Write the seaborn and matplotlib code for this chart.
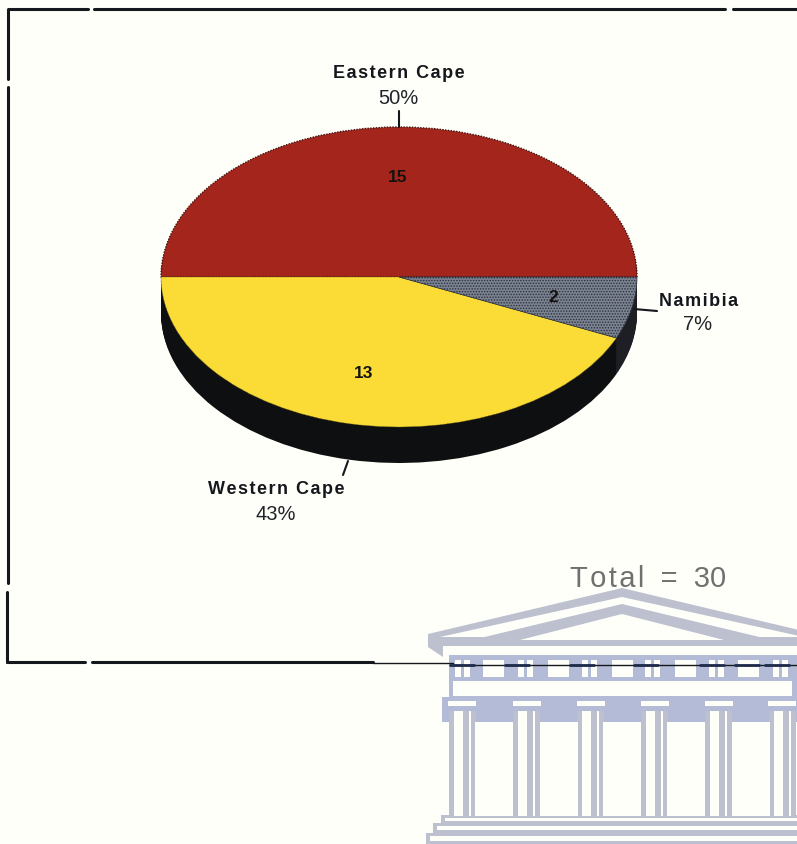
import numpy as np
import matplotlib
matplotlib.use('Agg')
import matplotlib.pyplot as plt
from matplotlib.patches import Polygon, Rectangle
import seaborn as sns

regions = ['Eastern Cape', 'Western Cape', 'Namibia']
counts = [15, 13, 2]
percents = ['50%', '43%', '7%']
total = 30
slice_colors = ['#a3251b', '#fbdc36', '#7b8393']
side_colors = ['#0e0f10', '#0e0f10', '#1d1f24']

sns.set_theme(style='white')
plt.rcParams['font.family'] = ['Liberation Sans', 'DejaVu Sans']
plt.rcParams['hatch.linewidth'] = 0.7

BG = '#fffffa'
LOGO = '#b4bbd6'
LOGO_GREY = '#bdc1cf'
INK = '#14171c'
HAIR = '\u200a'

fig = plt.figure(figsize=(7.97, 8.44), dpi=100, facecolor=BG)

# page axes in pixel coordinates, for frame, logo and labels
ax = fig.add_axes([0, 0, 1, 1], zorder=1)
ax.set_xlim(0, 797)
ax.set_ylim(844, 0)
ax.axis('off')


def box(x0, y0, x1, y1, color=LOGO_GREY, z=1):
    ax.add_patch(Rectangle((x0, y0), x1 - x0, y1 - y0, fc=color, ec='none', zorder=z))


def tri(apex, half, base, color, z=1):
    ax.add_patch(Polygon([(622, apex), (622 - half, base), (622 + half, base)], fc=color, ec='none', zorder=z))


def spaced(s):
    return HAIR.join(s)


# building watermark
tri(588, 194, 634, LOGO_GREY)
box(440, 641, 797, 646)
ax.add_patch(Polygon([(428, 634), (816, 634), (816, 642), (443, 642), (443, 657), (428, 647)],
                     fc=LOGO_GREY, ec='none', zorder=1))
tri(597, 182, 637, BG, 1.1)
tri(604, 150, 640, LOGO_GREY, 1.2)
tri(614, 102, 640, BG, 1.3)
box(443, 646, 797, 655, BG, 1.4)
box(449, 655, 797, 698, LOGO)
for x in [483, 548, 612, 675, 738]:
    box(x, 660, x + 21, 677, BG, 1.4)
for x in [455, 518, 582, 645, 709, 773]:
    box(x, 660, x + 6, 677, BG, 1.4)
    box(x + 9, 660, x + 15, 677, BG, 1.4)
box(453, 681, 792, 696, BG, 1.4)
box(442, 697, 797, 722, LOGO)
for x in [448, 513, 577, 641, 705, 768]:
    box(x, 701, x + 28, 706, BG, 1.4)
for x in [475, 540, 603, 667, 732]:
    box(x, 722, x + 38, 816, BG, 1.4)
for x in [449, 513, 577, 641, 705, 769]:
    box(x, 711, x + 27, 816)
    box(x + 5, 711, x + 14, 816, BG, 1.4)
    box(x + 20, 711, x + 22, 816, BG, 1.4)
box(441, 815, 797, 823)
box(445, 818, 797, 821, BG, 1.4)
box(433, 823, 797, 833)
box(437, 826, 797, 830, BG, 1.4)
box(426, 833, 797, 844)
box(430, 836, 797, 841, BG, 1.4)

# broken frame
for xs, ys, lw in [
    ([9, 88], [9, 9], 2.2), ([94, 725], [9, 9], 2.2), ([733, 797], [9, 9], 2.2),
    ([8, 8], [9, 79], 2.2), ([8, 8], [87, 583], 2.2), ([7, 7], [592, 662], 2.2),
    ([7, 85], [662, 662], 2.2), ([92, 373], [662, 662], 2.2), ([373, 453], [663, 663], 1.0),
    ([453, 720], [665, 665], 1.0), ([725, 797], [665, 665], 1.0),
]:
    ax.plot(xs, ys, color=INK, lw=lw, solid_capstyle='round', zorder=2)
for x in [450, 505, 570, 634, 700, 735, 765]:
    ax.plot([x, x + 24], [665, 665], color='#1d2a4a', lw=2.0, zorder=2)

# pie drawn on its own axes so the circle squashes to an ellipse
rx, ry, cx, cy, depth = 238, 150, 399, 277, 36
left, top, w, h = cx - rx, cy - ry, 2 * rx, 2 * ry + depth
pie_ax = fig.add_axes([left / 797, 1 - (top + h) / 844, w / 797, h / 844], zorder=2)
for d in np.arange(depth, 0, -1):
    pie_ax.pie(counts, startangle=0, colors=side_colors, center=(0, -d / ry),
               wedgeprops={'linewidth': 0})
wedges, _ = pie_ax.pie(counts, startangle=0, colors=sns.color_palette(slice_colors),
                       wedgeprops={'linewidth': 0})
# outline and dither like the old printer output
wedges[0].set(edgecolor='#3c1512', linewidth=1.0, linestyle=(0, (1, 1)))
wedges[1].set(edgecolor='#6d5f1c', linewidth=0.5, linestyle=(0, (1, 1)))
wedges[2].set(hatch='......', edgecolor='#2c3039', linewidth=0.5)
pie_ax.set_aspect('auto')
pie_ax.set_xlim(-1, 1)
pie_ax.set_ylim(-1 - depth / ry, 1)
pie_ax.axis('off')
pie_ax.patch.set_alpha(0)

# labels on top of everything
ax3 = fig.add_axes([0, 0, 1, 1], zorder=3)
ax3.set_xlim(0, 797)
ax3.set_ylim(844, 0)
ax3.axis('off')
for xs, ys in [([399, 399], [111, 127]), ([634, 657], [309, 311]), ([348, 343], [461, 475])]:
    ax3.plot(xs, ys, color=INK, lw=1.5)

name_style = dict(ha='center', va='center', fontsize=13, fontweight='bold', color=INK)
pct_style = dict(ha='center', va='center', fontsize=14.5, color='#20242a')
count_style = dict(ha='center', va='center', fontsize=12.5, fontweight='bold', color='#15120e')
ax3.text(399, 73, spaced(regions[0]), **name_style)
ax3.text(398, 98, percents[0], **pct_style)
ax3.text(276, 490, spaced(regions[1]), **name_style)
ax3.text(276, 515, percents[1], **pct_style)
ax3.text(699, 302, spaced(regions[2]), **name_style)
ax3.text(698, 324, percents[2], **pct_style)
ax3.text(398, 177, str(counts[0]), **count_style)
ax3.text(364, 373, str(counts[1]), **count_style)
ax3.text(553, 297, str(counts[2]), **count_style)
ax3.text(648, 579, spaced('Total') + '  =  ' + str(total), ha='center', va='center',
         fontsize=21, color='#707070')

fig.savefig('out.png', dpi=100, facecolor=BG)
